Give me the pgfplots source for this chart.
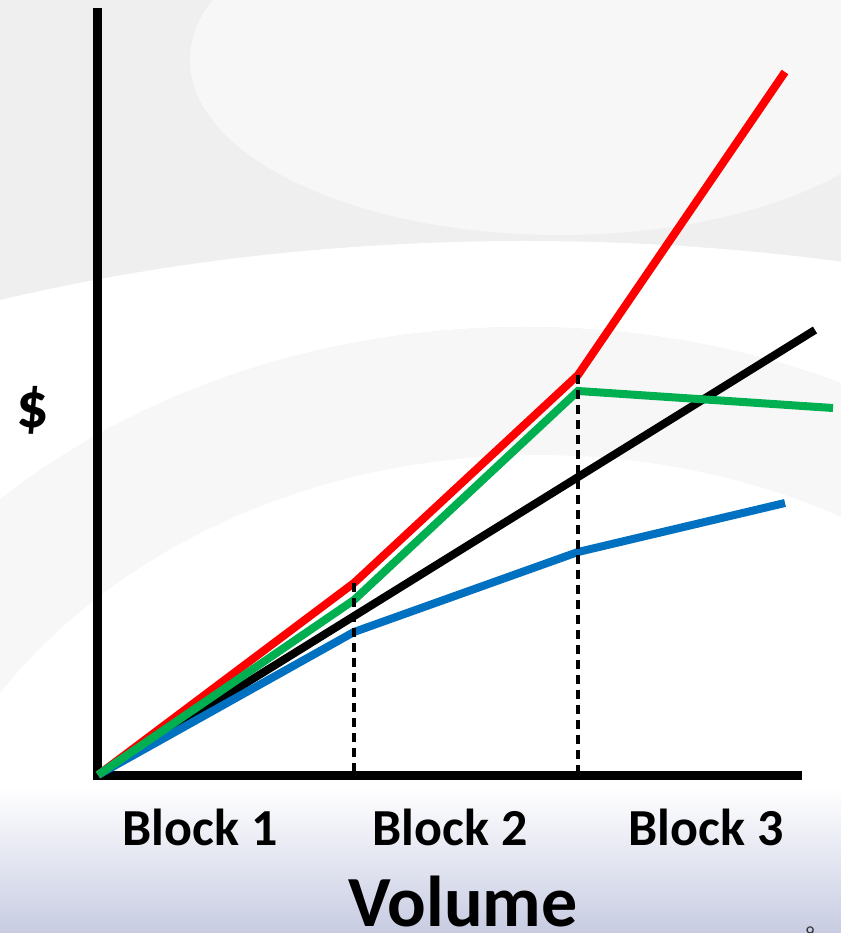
\documentclass[border=0pt]{standalone}
\usepackage{pgfplots}
\pgfplotsset{compat=1.18}
\usepackage{fontspec}
\setmainfont{Carlito}
\definecolor{cred}{RGB}{255,0,0}
\definecolor{cgreen}{RGB}{0,176,80}
\definecolor{cblue}{RGB}{0,112,192}
\definecolor{lav}{RGB}{200,204,226}
\definecolor{bgg}{RGB}{239,239,239}
\definecolor{bgl}{RGB}{247,247,247}
\begin{document}
\begin{tikzpicture}
\useasboundingbox (-98bp,-158bp) rectangle (743bp,775bp);
\begin{scope}
\clip (-98bp,-158bp) rectangle (743bp,775bp);
\fill[bgg] (-98bp,-158bp) rectangle (743bp,775bp);
\fill[bgl] (462bp,715bp) ellipse [x radius=370bp, y radius=175bp];
\fill[white, even odd rule] (427bp,-166bp) ellipse [x radius=1304bp, y radius=700bp] (427bp,-152bp) ellipse [x radius=748bp, y radius=600bp];
\fill[bgl] (427bp,-152bp) ellipse [x radius=748bp, y radius=600bp];
\fill[white] (440bp,-200bp) ellipse [x radius=640bp, y radius=520bp];
\shade[top color=white, bottom color=lav] (-98bp,-158bp) rectangle (743bp,-12bp);
\node[anchor=north, font=\fontsize{18bp}{20bp}\selectfont, text=black!80] at (712bp,-148bp) {9};
\end{scope}
\begin{axis}[
  scale only axis, width=700bp, height=762bp,
  xmin=0, xmax=700, ymin=0, ymax=762, enlargelimits=false, clip=false,
  axis lines=left,
  axis line style={-, line width=9bp, line cap=rect},
  xtick={102,352,608}, xticklabels={Block 1,Block 2,Block 3},
  ytick=\empty, major tick length=0pt, tick style={draw=none},
  xticklabel style={anchor=base, yshift=-70bp, font=\fontsize{52bp}{60bp}\selectfont\bfseries},
  xlabel={Volume}, ylabel={\$},
  every axis x label/.style={at={(axis description cs:0.5214,0)}, anchor=base, yshift=-151bp, font=\fontsize{72bp}{80bp}\selectfont\bfseries},
  every axis y label/.style={at={(axis description cs:-0.0929,0.479)}, anchor=center, font=\fontsize{64bp}{70bp}\selectfont\bfseries},
]
\addplot[black, line width=8bp] coordinates {(0,0) (717,445)};
\addplot[cblue, line width=8bp] coordinates {(0,0) (256,143) (480,223) (687,272)};
\addplot[cred, line width=8bp] coordinates {(0,0) (256,192) (480,400) (687,703)};
\addplot[cgreen, line width=8bp] coordinates {(0,0) (256,175) (480,384) (735,367)};
\addplot[black, line width=3.5bp, dash pattern=on 9bp off 6bp] coordinates {(256,192) (256,0)};
\addplot[black, line width=3.5bp, dash pattern=on 9bp off 6bp] coordinates {(480,400) (480,0)};
\end{axis}
\end{tikzpicture}
\end{document}
